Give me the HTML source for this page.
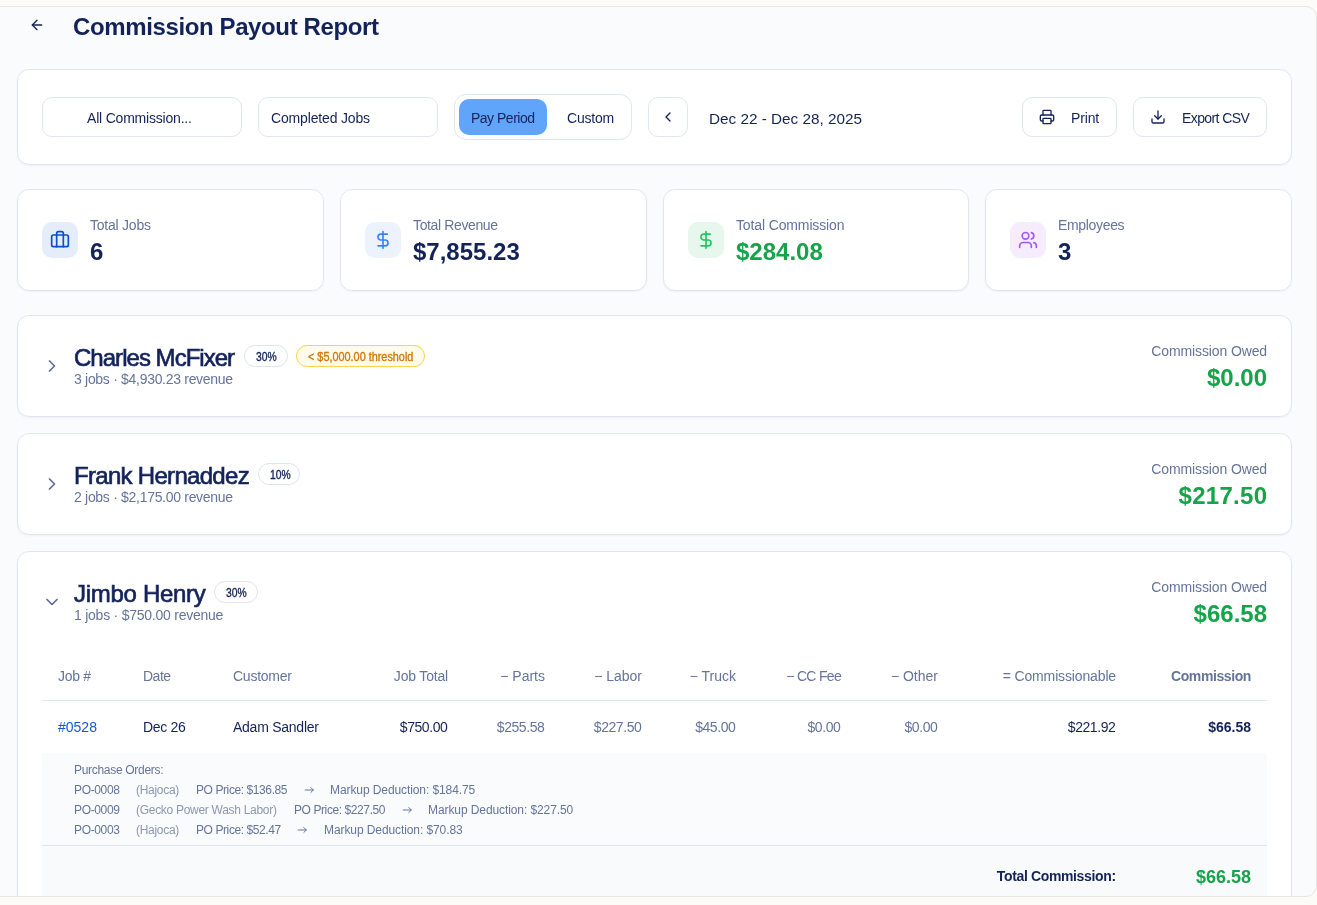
<!DOCTYPE html>
<html lang="en">
<head>
<meta charset="utf-8">
<title>Commission Payout Report</title>
<style>
*{box-sizing:border-box;margin:0;padding:0}
html,body{width:1317px;height:905px;overflow:hidden}
body{background:#fcfbf8;font-family:"Liberation Sans",sans-serif;color:#13235a;position:relative;-webkit-font-smoothing:antialiased}
.panel{position:absolute;left:-20px;top:6px;width:1337px;height:891px;background:#fafbfd;border:1px solid #e9e7e1;border-radius:11px;overflow:hidden}
.page{position:absolute;left:19px;top:-7px;width:1317px;height:905px;will-change:transform}
.abs{position:absolute}
.t{position:absolute;white-space:nowrap;line-height:1}
.card{position:absolute;background:#fff;border:1px solid #e1e6ee;border-radius:12px;box-shadow:0 1px 2px rgba(16,32,80,.05)}
.btn{position:absolute;background:#fff;border:1px solid #e1e6ee;border-radius:10px;height:40px;top:97px}
.muted{color:#65749b}
.green{color:#16a34a}
.b{font-weight:700}
svg{position:absolute;overflow:visible;fill:none;stroke-linecap:round;stroke-linejoin:round}
.f14{font-size:14px}
.f12{font-size:12px}
.f24{font-size:24px}
.ibox{position:absolute;width:36px;height:36px;border-radius:10px;top:222px}
.badge{position:absolute;height:22px;border-radius:11px;border:1px solid #dfe4ee;background:#fff}
.semi{-webkit-text-stroke:0.65px currentColor}
.semi12{-webkit-text-stroke:0.35px currentColor}
</style>
</head>
<body>
<div class="panel"><div class="page">

<!-- Header -->
<svg style="left:29px;top:17px" width="16" height="16" viewBox="0 0 24 24" stroke="#13235a" stroke-width="2"><path d="m12 19-7-7 7-7"/><path d="M19 12H5"/></svg>
<h1 class="t b f24" style="left:73px;top:15px;letter-spacing:-0.38px">Commission Payout Report</h1>

<!-- Filter toolbar -->
<div class="card" style="left:17px;top:69px;width:1275px;height:96px"></div>
<div class="btn" style="left:42px;width:200px"></div>
<span class="t f14" style="left:87px;top:111px;letter-spacing:-0.2px">All Commission...</span>
<div class="btn" style="left:258px;width:180px"></div>
<span class="t f14" style="left:271px;top:111px;letter-spacing:-0.16px">Completed Jobs</span>
<div class="abs" style="left:454px;top:94px;width:178px;height:46px;border:1px solid #e1e6ee;border-radius:12px;background:#fff"></div>
<div class="abs" style="left:459px;top:99px;width:88px;height:36px;border-radius:10px;background:#60a5fa"></div>
<span class="t f14" style="left:471px;top:111px;letter-spacing:-0.5px">Pay Period</span>
<span class="t f14" style="left:567px;top:111px;letter-spacing:-0.2px">Custom</span>
<div class="btn" style="left:648px;width:40px"></div>
<svg style="left:660px;top:109px" width="16" height="16" viewBox="0 0 24 24" stroke="#13235a" stroke-width="2"><path d="m15 18-6-6 6-6"/></svg>
<span class="t" style="left:709px;top:111px;font-size:15.3px;letter-spacing:0">Dec 22 - Dec 28, 2025</span>
<div class="btn" style="left:1022px;width:95px"></div>
<svg style="left:1039px;top:109px" width="16" height="16" viewBox="0 0 24 24" stroke="#13235a" stroke-width="2"><path d="M6 18H4a2 2 0 0 1-2-2v-5a2 2 0 0 1 2-2h16a2 2 0 0 1 2 2v5a2 2 0 0 1-2 2h-2"/><path d="M6 9V3a1 1 0 0 1 1-1h10a1 1 0 0 1 1 1v6"/><rect x="6" y="14" width="12" height="8" rx="1"/></svg>
<span class="t f14" style="left:1071px;top:111px;letter-spacing:-0.16px">Print</span>
<div class="btn" style="left:1133px;width:134px"></div>
<svg style="left:1150px;top:109px" width="16" height="16" viewBox="0 0 24 24" stroke="#13235a" stroke-width="2"><path d="M21 15v4a2 2 0 0 1-2 2H5a2 2 0 0 1-2-2v-4"/><path d="m7 10 5 5 5-5"/><path d="M12 15V3"/></svg>
<span class="t f14" style="left:1182px;top:111px;letter-spacing:-0.59px">Export CSV</span>

<!-- Stat cards -->
<div class="card" style="left:17px;top:189px;width:307px;height:102px"></div>
<div class="ibox" style="left:42px;background:#e6edfa"></div>
<svg style="left:50px;top:230px" width="20" height="20" viewBox="0 0 24 24" stroke="#0b4fd0" stroke-width="2"><path d="M16 20V4a2 2 0 0 0-2-2h-4a2 2 0 0 0-2 2v16"/><rect x="2" y="6" width="20" height="14" rx="2"/></svg>
<span class="t f14 muted" style="left:90px;top:218px;letter-spacing:-0.23px">Total Jobs</span>
<span class="t f24 b" style="left:90px;top:240px">6</span>

<div class="card" style="left:340px;top:189px;width:307px;height:102px"></div>
<div class="ibox" style="left:365px;background:#ecf2fe"></div>
<svg style="left:373px;top:230px" width="20" height="20" viewBox="0 0 24 24" stroke="#3b82f6" stroke-width="2"><path d="M12 2v20"/><path d="M17 5H9.5a3.5 3.5 0 0 0 0 7h5a3.5 3.5 0 0 1 0 7H6"/></svg>
<span class="t f14 muted" style="left:413px;top:218px;letter-spacing:-0.37px">Total Revenue</span>
<span class="t f24 b" style="left:413px;top:240px">$7,855.23</span>

<div class="card" style="left:663px;top:189px;width:306px;height:102px"></div>
<div class="ibox" style="left:688px;background:#e8f7ee"></div>
<svg style="left:696px;top:230px" width="20" height="20" viewBox="0 0 24 24" stroke="#22c55e" stroke-width="2"><path d="M12 2v20"/><path d="M17 5H9.5a3.5 3.5 0 0 0 0 7h5a3.5 3.5 0 0 1 0 7H6"/></svg>
<span class="t f14 muted" style="left:736px;top:218px;letter-spacing:-0.13px">Total Commission</span>
<span class="t f24 b green" style="left:736px;top:240px">$284.08</span>

<div class="card" style="left:985px;top:189px;width:307px;height:102px"></div>
<div class="ibox" style="left:1010px;background:#f5edfe"></div>
<svg style="left:1018px;top:230px" width="20" height="20" viewBox="0 0 24 24" stroke="#a855f7" stroke-width="2"><path d="M16 21v-2a4 4 0 0 0-4-4H6a4 4 0 0 0-4 4v2"/><circle cx="9" cy="7" r="4"/><path d="M22 21v-2a4 4 0 0 0-3-3.87"/><path d="M16 3.13a4 4 0 0 1 0 7.75"/></svg>
<span class="t f14 muted" style="left:1058px;top:218px;letter-spacing:-0.33px">Employees</span>
<span class="t f24 b" style="left:1058px;top:240px">3</span>

<!-- Employee 1 -->
<div class="card" style="left:17px;top:315px;width:1275px;height:102px"></div>
<svg style="left:42px;top:356px" width="20" height="20" viewBox="0 0 24 24" stroke="#5c6b98" stroke-width="2"><path d="m9 18 6-6-6-6"/></svg>
<span class="t f24 semi" style="left:74px;top:346px;letter-spacing:-0.97px">Charles McFixer</span>
<span class="t f14 muted" style="left:74px;top:372px;letter-spacing:-0.3px">3 jobs · $4,930.23 revenue</span>
<div class="badge" style="left:244px;top:345px;width:44px"></div>
<span class="t f12 semi12" style="left:256px;top:351px;transform:scaleX(.86);transform-origin:0 0">30%</span>
<div class="badge" style="left:296px;top:345px;width:129px;background:#fffbeb;border-color:#fcd34d"></div>
<span class="t f12 semi12" style="left:308px;top:351px;transform:scaleX(.905);transform-origin:0 0;color:#d0770a">&lt; $5,000.00 threshold</span>
<span class="t f14 muted" style="right:50px;top:344px;letter-spacing:-0.12px">Commission Owed</span>
<span class="t f24 b green" style="right:50px;top:366px">$0.00</span>

<!-- Employee 2 -->
<div class="card" style="left:17px;top:433px;width:1275px;height:102px"></div>
<svg style="left:42px;top:474px" width="20" height="20" viewBox="0 0 24 24" stroke="#5c6b98" stroke-width="2"><path d="m9 18 6-6-6-6"/></svg>
<span class="t f24 semi" style="left:74px;top:464px;letter-spacing:-0.7px">Frank Hernaddez</span>
<span class="t f14 muted" style="left:74px;top:490px;letter-spacing:-0.3px">2 jobs · $2,175.00 revenue</span>
<div class="badge" style="left:258px;top:463px;width:42px"></div>
<span class="t f12 semi12" style="left:269.5px;top:469px;transform:scaleX(.86);transform-origin:0 0">10%</span>
<span class="t f14 muted" style="right:50px;top:462px;letter-spacing:-0.12px">Commission Owed</span>
<span class="t f24 b green" style="right:49.7px;top:484px;letter-spacing:0.28px">$217.50</span>

<!-- Employee 3 (expanded) -->
<div class="card" style="left:17px;top:551px;width:1275px;height:400px"></div>
<svg style="left:42px;top:592px" width="20" height="20" viewBox="0 0 24 24" stroke="#5c6b98" stroke-width="2"><path d="m6 9 6 6 6-6"/></svg>
<span class="t f24 semi" style="left:74px;top:582px;letter-spacing:-0.3px">Jimbo Henry</span>
<span class="t f14 muted" style="left:74px;top:608px;letter-spacing:-0.24px">1 jobs · $750.00 revenue</span>
<div class="badge" style="left:214px;top:581px;width:44px"></div>
<span class="t f12 semi12" style="left:226px;top:587px;transform:scaleX(.86);transform-origin:0 0">30%</span>
<span class="t f14 muted" style="right:50px;top:580px;letter-spacing:-0.12px">Commission Owed</span>
<span class="t f24 b green" style="right:50px;top:602px">$66.58</span>

<!-- Table -->
<div class="abs" style="left:42px;top:700px;width:1225px;height:1px;background:#e1e6ee"></div>
<div class="abs" style="left:42px;top:753px;width:1225px;height:92px;background:#fafbfd"></div>
<div class="abs" style="left:42px;top:845px;width:1225px;height:1px;background:#e1e6ee"></div>
<div class="abs" style="left:42px;top:846px;width:1225px;height:60px;background:#f8fafc"></div>

<span class="t f14 muted" style="left:58px;top:669px;letter-spacing:-0.3px">Job #</span>
<span class="t f14 muted" style="left:143px;top:669px;letter-spacing:-0.5px">Date</span>
<span class="t f14 muted" style="left:233px;top:669px;letter-spacing:-0.25px">Customer</span>
<span class="t f14 muted" style="right:869px;top:669px;letter-spacing:-0.18px">Job Total</span>
<span class="t f14 muted" style="right:772px;top:669px">&minus; Parts</span>
<span class="t f14 muted" style="right:675px;top:669px">&minus; Labor</span>
<span class="t f14 muted" style="right:581px;top:669px">&minus; Truck</span>
<span class="t f14 muted" style="right:476px;top:669px;letter-spacing:-0.7px">&minus; CC Fee</span>
<span class="t f14 muted" style="right:379px;top:669px">&minus; Other</span>
<span class="t f14 muted" style="right:201px;top:669px;letter-spacing:-0.14px">= Commissionable</span>
<span class="t f14 muted b" style="right:66px;top:669px;letter-spacing:-0.4px">Commission</span>

<span class="t f14" style="left:58px;top:720px;color:#1a55d8">#0528</span>
<span class="t f14" style="left:143px;top:720px;letter-spacing:-0.3px">Dec 26</span>
<span class="t f14" style="left:233px;top:720px;letter-spacing:-0.25px">Adam Sandler</span>
<span class="t f14" style="right:869.6px;top:720px;letter-spacing:-0.43px">$750.00</span>
<span class="t f14 muted" style="right:772.6px;top:720px;letter-spacing:-0.43px">$255.58</span>
<span class="t f14 muted" style="right:675.6px;top:720px;letter-spacing:-0.43px">$227.50</span>
<span class="t f14 muted" style="right:581.6px;top:720px;letter-spacing:-0.43px">$45.00</span>
<span class="t f14 muted" style="right:476.6px;top:720px;letter-spacing:-0.43px">$0.00</span>
<span class="t f14 muted" style="right:379.6px;top:720px;letter-spacing:-0.43px">$0.00</span>
<span class="t f14" style="right:201.6px;top:720px;letter-spacing:-0.43px">$221.92</span>
<span class="t f14 b" style="right:66px;top:720px">$66.58</span>

<!-- Purchase orders -->
<span class="t f12 muted" style="left:74px;top:764px;letter-spacing:-0.3px">Purchase Orders:</span>

<span class="t f12 muted" style="left:74px;top:784px;letter-spacing:-0.35px">PO-0008</span>
<span class="t f12" style="left:136px;top:784px;letter-spacing:-0.3px;color:#8d97af">(Hajoca)</span>
<span class="t f12 muted" style="left:196px;top:784px;letter-spacing:-0.41px">PO Price: $136.85</span>
<svg style="left:304.8px;top:787.3px" width="9" height="6" viewBox="0 0 9 6" stroke="#65749b" stroke-width="1"><path d="M0.2 3H8.3M5.8 0.5 8.3 3 5.8 5.5"/></svg>
<span class="t f12 muted" style="left:330px;top:784px;letter-spacing:-0.09px">Markup Deduction: $184.75</span>

<span class="t f12 muted" style="left:74px;top:804px;letter-spacing:-0.35px">PO-0009</span>
<span class="t f12" style="left:136px;top:804px;letter-spacing:-0.29px;color:#8d97af">(Gecko Power Wash Labor)</span>
<span class="t f12 muted" style="left:294px;top:804px;letter-spacing:-0.41px">PO Price: $227.50</span>
<svg style="left:402.9px;top:807.3px" width="9" height="6" viewBox="0 0 9 6" stroke="#65749b" stroke-width="1"><path d="M0.2 3H8.3M5.8 0.5 8.3 3 5.8 5.5"/></svg>
<span class="t f12 muted" style="left:428px;top:804px;letter-spacing:-0.09px">Markup Deduction: $227.50</span>

<span class="t f12 muted" style="left:74px;top:824px;letter-spacing:-0.35px">PO-0003</span>
<span class="t f12" style="left:136px;top:824px;letter-spacing:-0.3px;color:#8d97af">(Hajoca)</span>
<span class="t f12 muted" style="left:196px;top:824px;letter-spacing:-0.41px">PO Price: $52.47</span>
<svg style="left:298.3px;top:827.3px" width="9" height="6" viewBox="0 0 9 6" stroke="#65749b" stroke-width="1"><path d="M0.2 3H8.3M5.8 0.5 8.3 3 5.8 5.5"/></svg>
<span class="t f12 muted" style="left:324px;top:824px;letter-spacing:-0.09px">Markup Deduction: $70.83</span>

<!-- Total -->
<span class="t f14 b" style="right:201.3px;top:869px;letter-spacing:-0.36px">Total Commission:</span>
<span class="t b green" style="right:66px;top:868px;font-size:18px">$66.58</span>

</div></div>
</body>
</html>
